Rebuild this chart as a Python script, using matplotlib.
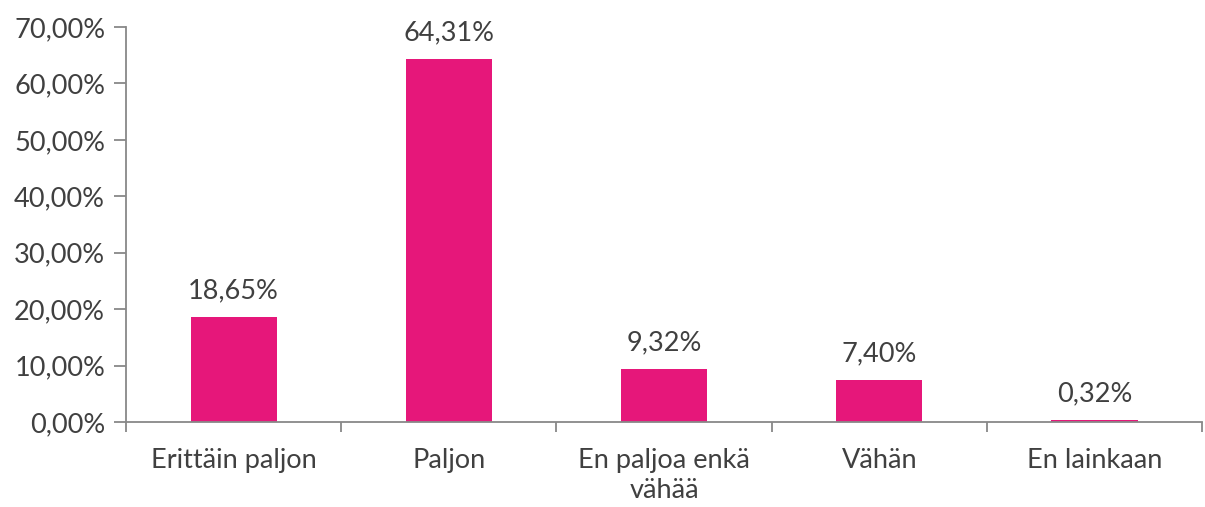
import matplotlib.pyplot as plt
from matplotlib.ticker import FuncFormatter

# ==========================
# Data
# ==========================

categories = ["Erittäin paljon", "Paljon", "En paljoa enkä\nvähää", "Vähän", "En lainkaan"]
values = [18.65, 64.31, 9.32, 7.40, 0.32]
y_ticks = [0, 10, 20, 30, 40, 50, 60, 70]

BAR_COLOR = "#E6177A"
TEXT_COLOR = "#404040"
AXIS_COLOR = "#888888"
FONT_SIZE = 19.5

plt.rcParams["font.family"] = ["Lato", "DejaVu Sans"]

# ==========================
# Figure
# ==========================

fig = plt.figure(figsize=(12.05, 5.07), dpi=100)
ax = fig.add_axes([0.1046, 0.1677, 0.893, 0.779])

x = list(range(len(categories)))
ax.bar(x, values, width=0.40, color=BAR_COLOR, zorder=2)

for xi, v in zip(x, values):
    ax.annotate(f"{v:.2f}%".replace(".", ","), (xi, v), xytext=(0, 10),
                textcoords="offset points", ha="center", va="bottom",
                fontsize=FONT_SIZE, color=TEXT_COLOR)

ax.set_xlim(-0.5, len(categories) - 0.5)
ax.set_ylim(0, 70)
ax.set_yticks(y_ticks)
ax.yaxis.set_major_formatter(FuncFormatter(lambda v, p: f"{v:.2f}%".replace(".", ",")))

# category labels centered, tick marks at boundaries
ax.set_xticks([i - 0.5 for i in range(len(categories) + 1)])
ax.set_xticklabels([])
ax.set_xticks(x, minor=True)
ax.set_xticklabels(categories, minor=True, fontsize=FONT_SIZE, color=TEXT_COLOR, linespacing=1.25)
ax.tick_params(axis="x", which="minor", length=0, pad=19)
ax.tick_params(axis="x", which="major", length=7, width=1.3, color=AXIS_COLOR, direction="out")
ax.tick_params(axis="y", length=9, width=1.3, color=AXIS_COLOR, labelsize=FONT_SIZE,
               labelcolor=TEXT_COLOR, pad=6)

for side in ["top", "right"]:
    ax.spines[side].set_visible(False)
for side in ["left", "bottom"]:
    ax.spines[side].set_color(AXIS_COLOR)
    ax.spines[side].set_linewidth(1.3)

plt.savefig("out.png", dpi=100)
